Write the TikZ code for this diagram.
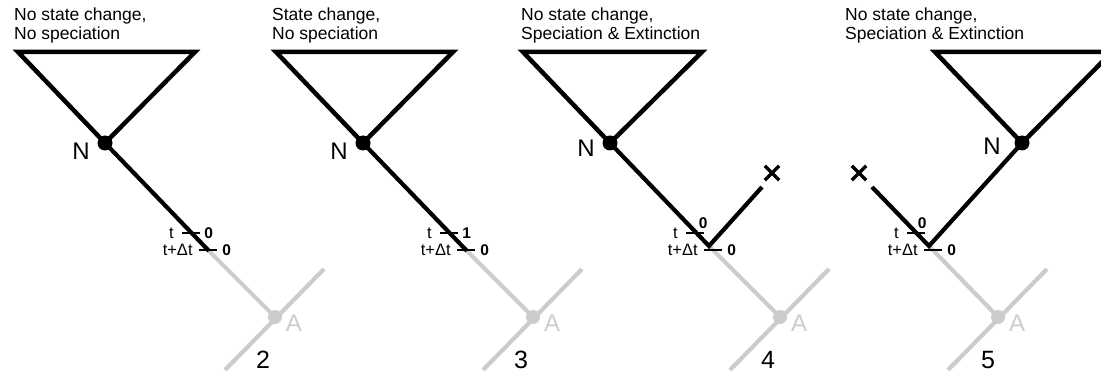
\documentclass[tikz,border=0pt]{standalone}
\usepackage{fontspec}
\setmainfont{Liberation Sans}
\usetikzlibrary{positioning,shapes.misc,backgrounds}
\definecolor{ltgrey}{HTML}{CCCCCC}
\newcommand{\fsz}[1]{\fontsize{#1}{#1}\selectfont}
\tikzset{
  brch/.style   = {draw=black, line width=4.2pt},
  clade/.style  = {draw=black, line width=4.5pt, line join=miter},
  gbrch/.style  = {draw=ltgrey, line width=4.2pt},
  ndot/.style   = {circle, fill=black, minimum size=15pt, inner sep=0pt},
  adot/.style   = {circle, fill=ltgrey, minimum size=14pt, inner sep=0pt},
  tck/.style    = {fill=black, minimum width=18pt, minimum height=2.5pt,
                   inner sep=0pt},
  ext/.style    = {cross out, draw=black, line width=3.4pt, minimum size=11pt,
                   inner sep=0pt},
  ttl/.style    = {font=\fontsize{17.5}{19}\selectfont, align=left,
                   anchor=north west, inner sep=0pt},
  nlab/.style   = {font=\fsz{24}, inner sep=0pt},
  alab/.style   = {nlab, text=ltgrey},
  tlab/.style   = {font=\fsz{16.5}, inner sep=0pt},
  slab/.style   = {font=\fsz{15.5}\bfseries, inner sep=0pt},
  pnum/.style   = {font=\fsz{25}, inner sep=0pt},
}
\begin{document}
\begin{tikzpicture}[x=1pt, y=-1pt]
  \useasboundingbox (0,0) rectangle (1101,374);
  % panels 2 and 3: no speciation
  \foreach \k/\nx/\hd/\st/\nm in {1/105/{No state change,\\No speciation}/0/2,
                                  2/363/{State change,\\No speciation}/1/3}{%
    \node[ttl] (T\k) at (\nx-91,8) {\hd};
    \coordinate (L\k) at (\nx-87,52);
    \coordinate (R\k) at (\nx+90,52);
    \coordinate (F\k) at (\nx+104,251);
    \coordinate (P\k) at (\nx+120,370);
    \coordinate (Q\k) at (\nx+219,269);
    \node[ndot] (N\k) at (\nx,143) {};
    \node[adot] (A\k) at (\nx+170,317) {};
    \node[nlab] at (\nx-24,151) {N};
    \node[alab] at (\nx+189,323) {A};
    \node[pnum] at (\nx+158,360) {\nm};
    \node[tck] (tT\k) at (\nx+86,233) {};
    \node[tck] (tD\k) at (\nx+103,250) {};
    \node[tlab, left=8pt of tT\k] {t};
    \node[tlab, left=6pt of tD\k] {t+Δt};
    \node[slab, right=4pt of tT\k] {\st};
    \node[slab, right=5pt of tD\k] {0};
    \begin{scope}[on background layer]
      \draw[gbrch] (F\k) -- (A\k.center);
      \draw[gbrch] (P\k) -- (Q\k);
      \draw[clade] (N\k.center) -- (L\k) -- (R\k) -- cycle;
      \draw[brch] (N\k.center) -- (F\k);
    \end{scope}
  }
  % panel 4
  \node[ttl] (T3) at (521,8) {No state change,\\Speciation \& Extinction};
  \coordinate (L3) at (523,52);
  \coordinate (R3) at (702,52);
  \coordinate (F3) at (709,246);
  \coordinate (E3) at (762,187);
  \coordinate (P3) at (730,370);
  \coordinate (Q3) at (829,269);
  \node[ndot] (N3) at (610,143) {};
  \node[adot] (A3) at (780,317) {};
  \node[ext] (X3) at (772,173) {};
  \node[nlab] at (586,148) {N};
  \node[alab] at (799,323) {A};
  \node[pnum] at (768,360) {4};
  \node[tck] (tT3) at (695,233) {};
  \node[tck] (tD3) at (713,250) {};
  \node[tlab, left=8pt of tT3] {t};
  \node[tlab, left=6pt of tD3] {t+Δt};
  \node[slab, above=3pt of tT3.north east, xshift=-1pt] {0};
  \node[slab, right=5pt of tD3] {0};
  \begin{scope}[on background layer]
    \draw[gbrch] (F3) -- (A3.center);
    \draw[gbrch] (P3) -- (Q3);
    \draw[clade] (N3.center) -- (L3) -- (R3) -- cycle;
    \draw[brch] (N3.center) -- (F3) -- (E3);
  \end{scope}
  % panel 5
  \node[ttl] (T4) at (845,8) {No state change,\\Speciation \& Extinction};
  \coordinate (L4) at (935,52);
  \coordinate (R4) at (1112,52);
  \coordinate (F4) at (929,246);
  \coordinate (E4) at (872,187);
  \coordinate (P4) at (948,370);
  \coordinate (Q4) at (1047,269);
  \node[ndot] (N4) at (1022,143) {};
  \node[adot] (A4) at (998,317) {};
  \node[ext] (X4) at (859,173) {};
  \node[nlab] at (992,146) {N};
  \node[alab] at (1017,323) {A};
  \node[pnum] at (988,360) {5};
  \node[tck] (tT4) at (916,233) {};
  \node[tck] (tD4) at (933,250) {};
  \node[tlab, left=8pt of tT4] {t};
  \node[tlab, left=6pt of tD4] {t+Δt};
  \node[slab, above=3pt of tT4.north east, xshift=-3pt] {0};
  \node[slab, right=5pt of tD4] {0};
  \begin{scope}[on background layer]
    \draw[gbrch] (F4) -- (A4.center);
    \draw[gbrch] (P4) -- (Q4);
    \draw[clade] (N4.center) -- (L4) -- (R4) -- cycle;
    \draw[brch] (N4.center) -- (F4) -- (E4);
  \end{scope}
\end{tikzpicture}
\end{document}
